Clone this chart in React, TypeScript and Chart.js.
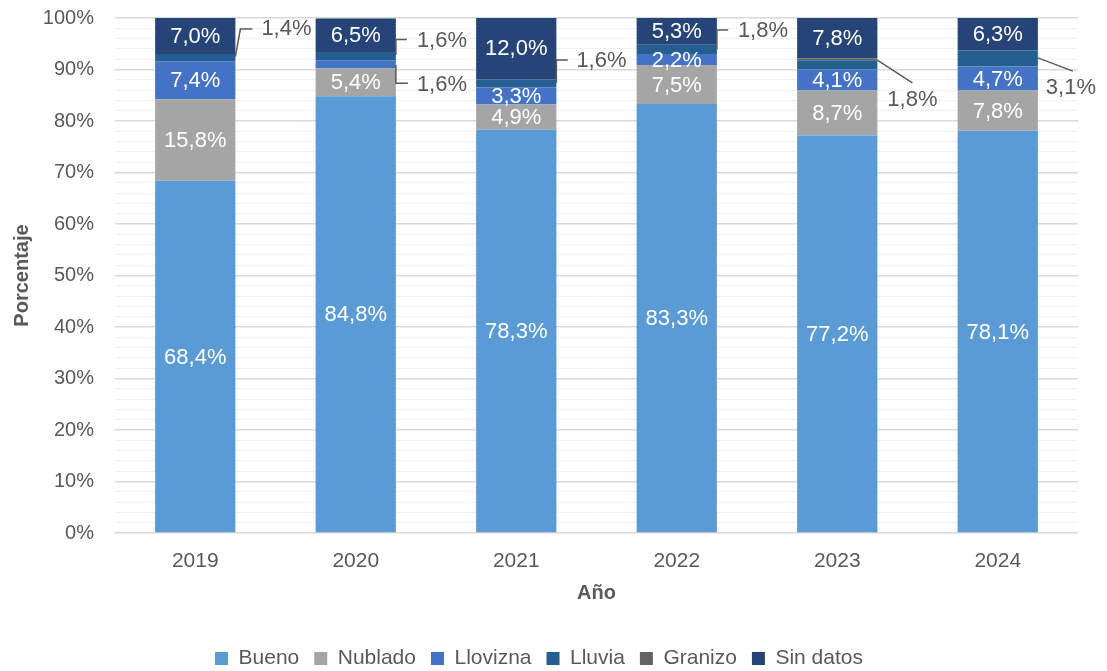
import React, { useEffect, useRef } from "react";
import { Chart, registerables } from "chart.js";

Chart.register(...registerables);

const years = ["2019", "2020", "2021", "2022", "2023", "2024"];
const bueno = [68.4, 84.8, 78.3, 83.3, 77.2, 78.1];
const nublado = [15.8, 5.4, 4.9, 7.5, 8.7, 7.8];
const llovizna = [7.4, 1.6, 3.3, 2.2, 4.1, 4.7];
const lluvia = [1.4, 1.6, 1.6, 1.8, 1.8, 3.1];
const granizo = [0, 0, 0, 0, 0.4, 0];
const sinDatos = [7.0, 6.5, 12.0, 5.3, 7.8, 6.3];

const seriesNames = ["Bueno", "Nublado", "Llovizna", "Lluvia", "Granizo", "Sin datos"];
const seriesColors = ["#5B9BD5", "#A5A5A5", "#4472C4", "#255E91", "#636363", "#264478"];

const FONT = "'Liberation Sans', Arial, sans-serif";
const TEXT = "#595959";

// callout leader lines: [datasetIndex, categoryIndex, line offsets from bar right edge / segment centre, text offset, align]
type Callout = { ds: number; i: number; path: number[][]; text: number[]; align: CanvasTextAlign };
const callouts: Callout[] = [
  { ds: 3, i: 0, path: [[0, -1], [5, -28.6], [17, -28.6]], text: [26, -29], align: "left" },
  { ds: 3, i: 1, path: [[0, -1], [0, -16.7], [11, -16.7]], text: [21, -15.5], align: "left" },
  { ds: 2, i: 1, path: [[0, 0.7], [0, 19], [12, 19]], text: [21, 20.5], align: "left" },
  { ds: 3, i: 2, path: [[0, -0.6], [0, -23.3], [11.3, -23.3]], text: [20, -22.6], align: "left" },
  { ds: 3, i: 3, path: [[0, 0], [0, -19.4], [11.3, -19.4]], text: [21, -18], align: "left" },
  { ds: 3, i: 4, path: [[0, -4.8], [35, 17.9]], text: [35, 35.2], align: "center" },
  { ds: 3, i: 5, path: [[0, -0.6], [35, 12.7]], text: [33, 30], align: "center" },
];

const fmt = (v: number) => v.toFixed(1).replace(".", ",") + "%";

const labelPlugin = {
  id: "segLabels",
  afterDatasetsDraw(chart: any) {
    const ctx = chart.ctx as CanvasRenderingContext2D;
    ctx.save();
    ctx.font = `22px ${FONT}`;
    ctx.textBaseline = "middle";
    chart.data.datasets.forEach((ds: any, di: number) => {
      const meta = chart.getDatasetMeta(di);
      meta.data.forEach((el: any, i: number) => {
        const v = ds.data[i] as number;
        if (!v) return;
        const cy = (el.y + el.base) / 2;
        const right = el.x + el.width / 2;
        const co = callouts.find((c) => c.ds === di && c.i === i);
        if (co) {
          ctx.strokeStyle = TEXT;
          ctx.lineWidth = 1.5;
          ctx.beginPath();
          co.path.forEach((p, k) => {
            if (k === 0) ctx.moveTo(right + p[0], cy + p[1]);
            else ctx.lineTo(right + p[0], cy + p[1]);
          });
          ctx.stroke();
          ctx.fillStyle = TEXT;
          ctx.textAlign = co.align;
          ctx.fillText(fmt(v), right + co.text[0], cy + co.text[1]);
        } else if (di !== 3 && di !== 4) {
          ctx.fillStyle = "#FFFFFF";
          ctx.textAlign = "center";
          ctx.fillText(fmt(v), el.x, cy + 1);
        }
      });
    });
    ctx.restore();
  },
};

export default function App() {
  const ref = useRef<HTMLCanvasElement | null>(null);
  useEffect(() => {
    if (!ref.current) return;
    const values = [bueno, nublado, llovizna, lluvia, granizo, sinDatos];
    const chart = new Chart(ref.current, {
      type: "bar",
      data: {
        labels: years,
        datasets: values.map((d, k) => ({
          label: seriesNames[k],
          data: d,
          backgroundColor: seriesColors[k],
          borderWidth: 0,
          barPercentage: 1,
          categoryPercentage: 0.5,
        })),
      },
      options: {
        animation: false,
        responsive: false,
        layout: { padding: { top: 18, right: 29, bottom: -8, left: 0 } },
        plugins: {
          tooltip: { enabled: false },
          legend: {
            position: "bottom",
            labels: {
              boxWidth: 13,
              boxHeight: 13,
              padding: 15,
              color: TEXT,
              font: { family: FONT, size: 21 },
            },
          },
        },
        scales: {
          x: {
            stacked: true,
            grid: { display: false },
            border: { display: false },
            ticks: { color: TEXT, font: { family: FONT, size: 21 }, padding: 8 },
            title: {
              display: true,
              text: "Año",
              color: TEXT,
              font: { family: FONT, size: 20, weight: "bold" },
              padding: { top: 4, bottom: 28 },
            },
            afterFit: (s: any) => {
              s.height = 100;
            },
          },
          y: {
            stacked: true,
            min: 0,
            max: 100,
            border: { display: false },
            grid: {
              drawTicks: true,
              tickLength: 21,
              tickColor: "rgba(0,0,0,0)",
              color: (c: any) => (c.tick && c.tick.value % 10 === 0 ? "#D9D9D9" : "#F2F2F2"),
              lineWidth: (c: any) => (c.tick && c.tick.value % 10 === 0 ? 1.5 : 1),
            },
            ticks: {
              stepSize: 2,
              autoSkip: false,
              padding: 0,
              color: TEXT,
              font: { family: FONT, size: 20 },
              callback: (v: any) => (Number(v) % 10 === 0 ? v + "%" : ""),
            },
            title: {
              display: true,
              text: "Porcentaje",
              color: TEXT,
              font: { family: FONT, size: 20, weight: "bold" },
              padding: { top: 10, bottom: 0 },
            },
            afterFit: (s: any) => {
              s.width = 115;
            },
          },
        },
      },
      plugins: [labelPlugin],
    });
    return () => chart.destroy();
  }, []);
  return (
    <div style={{ position: "absolute", left: 0, top: 0, width: 1107, height: 671, background: "#fff" }}>
      <canvas ref={ref} width={1107} height={671} />
    </div>
  );
}
